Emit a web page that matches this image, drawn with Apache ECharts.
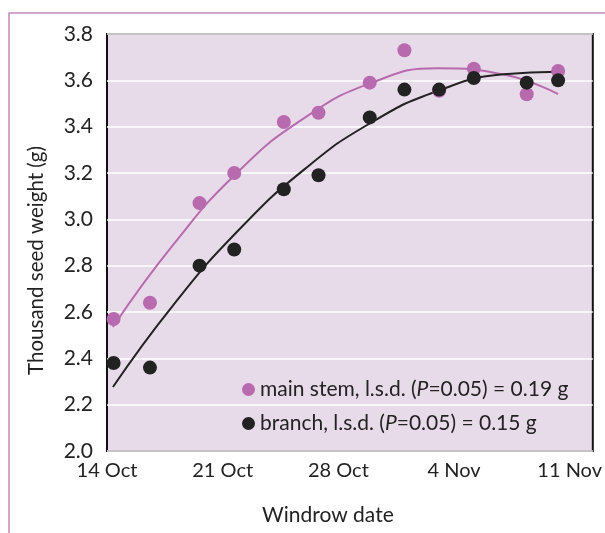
<!DOCTYPE html>
<html>
<head>
<meta charset="utf-8">
<script src="https://cdn.jsdelivr.net/npm/echarts@6/dist/echarts.min.js"></script>
<style>
  html, body { margin: 0; padding: 0; background: #fff; }
  #chart { width: 605px; height: 533px; }
</style>
</head>
<body>
<div id="chart"></div>
<script>
// days after 14 Oct
var sampleDays = [0.4, 2.6, 5.6, 7.7, 10.7, 12.8, 15.9, 18.0, 20.1, 22.2, 25.4, 27.3];
var mainStem = [2.57, 2.64, 3.07, 3.20, 3.42, 3.46, 3.59, 3.73, 3.555, 3.65, 3.54, 3.64];
var branch = [2.38, 2.36, 2.80, 2.87, 3.13, 3.19, 3.44, 3.56, 3.56, 3.61, 3.59, 3.60];

// fitted curves
var curveDays = [0.36, 4, 8, 12, 16, 20, 24, 27.3];
var mainCurve = [2.535, 2.89, 3.21, 3.44, 3.589, 3.652, 3.625, 3.54];
var branchCurve = [2.276, 2.629, 2.956, 3.219, 3.418, 3.554, 3.626, 3.637];

var xTickLabels = ["14 Oct", "21 Oct", "28 Oct", "4 Nov", "11 Nov"];

var mainName = "main stem";
var branchName = "branch";
var lsd = { "main stem": "0.19", "branch": "0.15" };

var pink = "#b86aae";
var dark = "#222222";
var font = "Lato";

function pairs(xs, ys) {
    return xs.map(function (x, i) { return [x, ys[i]]; });
}

var chart = echarts.init(document.getElementById("chart"));
chart.setOption({
    animation: false,
    textStyle: { fontFamily: font },
    graphic: [
        {
            type: "rect",
            shape: { x: 9, y: 13, width: 700, height: 700 },
            style: { fill: "none", stroke: "#c588bf", lineWidth: 1.5 },
            silent: true
        }
    ],
    grid: {
        left: 107,
        top: 34,
        right: 7,
        bottom: 82,
        show: true,
        backgroundColor: "#e8dbe9",
        borderColor: "#111",
        borderWidth: 2
    },
    legend: {
        left: 237,
        top: 374,
        orient: "vertical",
        itemWidth: 13,
        itemHeight: 13,
        itemGap: 13,
        icon: "circle",
        data: [mainName, branchName],
        formatter: function (name) {
            return "{n|" + name + ", l.s.d. (}{i|P}{n|=0.05) = " + lsd[name] + " g}";
        },
        textStyle: {
            fontFamily: font,
            fontSize: 21,
            color: "#222",
            rich: {
                n: { fontFamily: font, fontSize: 21, color: "#222", lineHeight: 25 },
                i: { fontFamily: font, fontSize: 21, color: "#222", fontStyle: "italic", lineHeight: 25 }
            }
        }
    },
    xAxis: {
        type: "value",
        min: 0,
        max: 29.4,
        interval: 7,
        name: "Windrow date",
        nameLocation: "middle",
        nameGap: 54,
        nameTextStyle: { fontFamily: font, fontSize: 21, color: "#222", padding: [0, 44, 0, 0] },
        axisLine: { show: false },
        axisTick: { show: false },
        splitLine: { show: false },
        axisLabel: {
            fontFamily: font,
            fontSize: 20,
            color: "#222",
            margin: 10,
            showMaxLabel: false,
            formatter: function (v) {
                var k = Math.round(v / 7);
                return Math.abs(v - k * 7) < 0.01 ? (xTickLabels[k] || "") : "";
            }
        }
    },
    yAxis: {
        type: "value",
        min: 2.0,
        max: 3.8,
        interval: 0.2,
        name: "Thousand seed weight (g)",
        nameLocation: "middle",
        nameGap: 60,
        nameTextStyle: { fontFamily: font, fontSize: 20.5, color: "#222", padding: [0, 36, 0, 0] },
        axisLine: { show: false },
        axisTick: { show: false },
        splitLine: { lineStyle: { color: "#ffffff", width: 1.5 } },
        axisLabel: {
            fontFamily: font,
            fontSize: 21,
            color: "#222",
            margin: 14,
            formatter: function (v) { return v.toFixed(1); }
        }
    },
    series: [
        {
            name: "main stem fit",
            type: "line",
            smooth: true,
            symbol: "none",
            data: pairs(curveDays, mainCurve),
            lineStyle: { color: pink, width: 2 },
            z: 2
        },
        {
            name: "branch fit",
            type: "line",
            smooth: true,
            symbol: "none",
            data: pairs(curveDays, branchCurve),
            lineStyle: { color: dark, width: 2 },
            z: 2
        },
        {
            name: mainName,
            type: "scatter",
            symbolSize: 14,
            data: pairs(sampleDays, mainStem),
            itemStyle: { color: pink, opacity: 1 },
            z: 3
        },
        {
            name: branchName,
            type: "scatter",
            symbolSize: 14,
            data: pairs(sampleDays, branch),
            itemStyle: { color: dark, opacity: 1 },
            z: 4
        }
    ]
});
</script>
</body>
</html>
